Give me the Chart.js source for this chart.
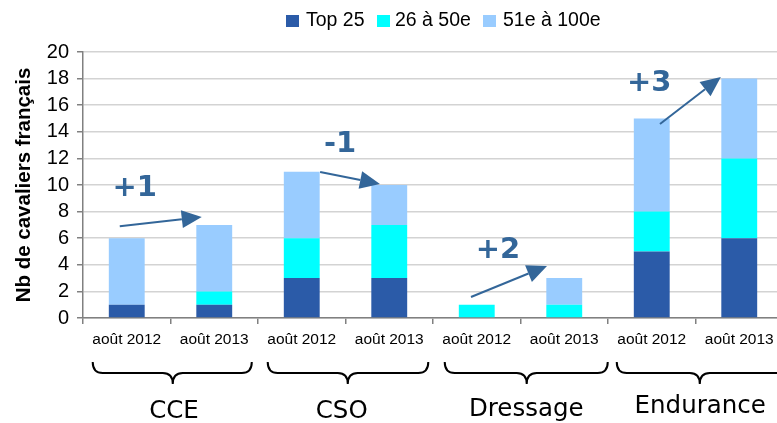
<!DOCTYPE html>
<html><head><meta charset="utf-8">
<script src="https://cdn.jsdelivr.net/npm/chart.js@4/dist/chart.umd.min.js"></script>
<style>
html,body{margin:0;padding:0;background:#fff;overflow:hidden}
#wrap{width:777px;height:423px;overflow:hidden;position:relative}
canvas{display:block}
</style></head><body>
<div id="wrap"><canvas id="c" width="800" height="423"></canvas></div>
<script>
const categories = ['août 2012','août 2013','août 2012','août 2013','août 2012','août 2013','août 2012','août 2013'];
const groups = ['CCE','CSO','Dressage','Endurance'];
const seriesNames = ['Top 25','26 à 50e','51e à 100e'];
const top25 = [1,1,3,3,0,0,5,6];
const rank26to50 = [0,1,3,4,1,1,3,6];
const rank51to100 = [5,5,5,3,0,2,7,6];
const yTicks = [0,2,4,6,8,10,12,14,16,18,20];
const changeLabels = ['+1','-1','+2','+3'];
// arrows in (category units, value units)
const arrowFrom = [[-0.08,6.9],[2.21,10.98],[3.934,1.58],[6.094,14.59]];
const arrowTo = [[0.857,7.6],[2.894,10.08],[4.803,3.91],[6.79,18.12]];
const labelPos = [[0.09,9.77],[2.437,13.08],[4.243,5.11],[5.97,17.67]];
// braces: [start, end, cusp] in category units
const braceSpan = [[-0.389,1.429,0.526],[1.611,3.446,2.526],[3.634,5.497,4.571],[5.6,7.6,6.549]];
const groupLabelX = [0.54,2.457,4.566,6.554];

const colors = ['#2b5ba8','#00ffff','#99ccff'];
const arrowColor = '#336699';

function catX(xs, v){
  const p0 = xs.getPixelForValue(0), p1 = xs.getPixelForValue(1);
  return p0 + v*(p1-p0);
}

const decor = {
  id:'decor',
  afterDraw(chart){
    const ctx = chart.ctx, xs = chart.scales.x, ys = chart.scales.y;
    ctx.save();
    // legend
    ctx.font = '19.5px "Liberation Sans", Arial, sans-serif';
    ctx.textBaseline = 'middle';
    const boxX = [286,377,483], textX = [306,395,503];
    chart.data.datasets.forEach((ds,i)=>{
      ctx.fillStyle = ds.backgroundColor;
      ctx.fillRect(boxX[i],15,13,12);
      ctx.fillStyle = '#000';
      ctx.textAlign = 'left';
      ctx.fillText(ds.label, textX[i], 21);
    });
    // arrows
    ctx.strokeStyle = arrowColor; ctx.fillStyle = arrowColor; ctx.lineWidth = 2;
    for(let k=0;k<arrowFrom.length;k++){
      const x1 = catX(xs, arrowFrom[k][0]), y1 = ys.getPixelForValue(arrowFrom[k][1]);
      const x2 = catX(xs, arrowTo[k][0]), y2 = ys.getPixelForValue(arrowTo[k][1]);
      const ang = Math.atan2(y2-y1, x2-x1);
      const hl = 20, hw = 9;
      const bx = x2 - hl*Math.cos(ang), by = y2 - hl*Math.sin(ang);
      ctx.beginPath(); ctx.moveTo(x1,y1); ctx.lineTo(bx,by); ctx.stroke();
      ctx.beginPath();
      ctx.moveTo(x2,y2);
      ctx.lineTo(bx - hw*Math.sin(ang), by + hw*Math.cos(ang));
      ctx.lineTo(bx + hw*Math.sin(ang), by - hw*Math.cos(ang));
      ctx.closePath(); ctx.fill();
    }
    // change labels
    ctx.font = 'bold 29px "DejaVu Sans", Verdana, sans-serif';
    ctx.textAlign = 'center'; ctx.textBaseline = 'middle';
    changeLabels.forEach((t,k)=>{
      ctx.fillText(t, catX(xs,labelPos[k][0]), ys.getPixelForValue(labelPos[k][1]));
    });
    // braces and group labels
    const gLabelBase = [418,418,416,413];
    ctx.strokeStyle = '#000'; ctx.lineWidth = 2;
    groups.forEach((g,k)=>{
      const xa = catX(xs,braceSpan[k][0]), xb = catX(xs,braceSpan[k][1]), xc = catX(xs,braceSpan[k][2]);
      const yt = 362, ym = 373, yb = 384, r = 10;
      ctx.beginPath();
      ctx.moveTo(xa, yt);
      ctx.quadraticCurveTo(xa, ym, xa+r, ym);
      ctx.lineTo(xc-r, ym);
      ctx.quadraticCurveTo(xc, ym, xc, yb);
      ctx.quadraticCurveTo(xc, ym, xc+r, ym);
      ctx.lineTo(xb-r, ym);
      ctx.quadraticCurveTo(xb, ym, xb, yt);
      ctx.stroke();
      ctx.fillStyle = '#000';
      ctx.font = '24.5px "DejaVu Sans", Verdana, sans-serif';
      ctx.textAlign = 'center'; ctx.textBaseline = 'alphabetic';
      ctx.fillText(g, catX(xs, groupLabelX[k]), gLabelBase[k]);
    });
    ctx.restore();
  }
};

new Chart(document.getElementById('c'), {
  type:'bar',
  data:{
    labels: categories,
    datasets:[
      {label:seriesNames[0], data:top25, backgroundColor:colors[0]},
      {label:seriesNames[1], data:rank26to50, backgroundColor:colors[1]},
      {label:seriesNames[2], data:rank51to100, backgroundColor:colors[2]}
    ]
  },
  options:{
    responsive:false, animation:false, devicePixelRatio:1,
    layout:{padding:{top:52,right:17,bottom:0,left:0}},
    datasets:{bar:{barPercentage:0.41, categoryPercentage:1, borderWidth:0}},
    plugins:{legend:{display:false}, tooltip:{enabled:false}},
    scales:{
      x:{
        stacked:true,
        afterFit(s){ s.height = 105; },
        grid:{drawOnChartArea:false, drawTicks:true, tickLength:6, offset:true, color:'#808080', lineWidth:1.5},
        border:{color:'#808080', width:1.5},
        ticks:{color:'#000', font:{family:'"Liberation Sans", Arial, sans-serif', size:15.5}, padding:6, maxRotation:0, autoSkip:false}
      },
      y:{
        stacked:true, min:0, max:20,
        afterFit(s){ s.width = 83; },
        afterBuildTicks(s){ s.ticks = yTicks.map(v=>({value:v})); },
        grid:{color:'#d3d3d3', lineWidth:1.5, tickLength:6, tickColor:'#808080'},
        border:{color:'#808080', width:1.5},
        ticks:{color:'#000', font:{family:'"Liberation Sans", Arial, sans-serif', size:20}, padding:8, autoSkip:false},
        title:{display:true, text:'Nb de cavaliers français', color:'#000', font:{family:'"Liberation Sans", Arial, sans-serif', size:20.5, weight:'bold'}, padding:{top:12,bottom:0}}
      }
    }
  },
  plugins:[decor]
});
</script>
</body></html>
